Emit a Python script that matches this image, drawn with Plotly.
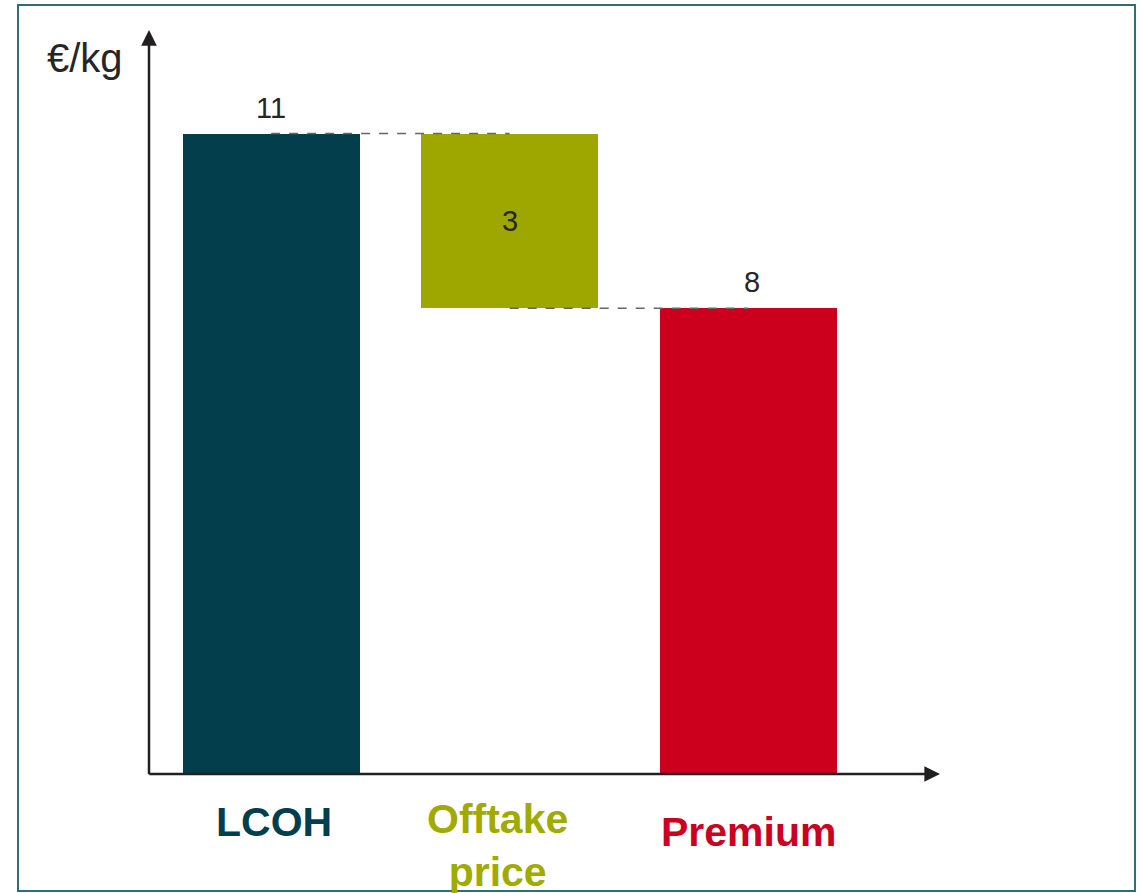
import plotly.graph_objects as go

# ---- data ----
categories = ["LCOH", "Offtake price", "Premium"]
values = [11, 3, 8]
label_texts = ["LCOH", "Offtake<br>price", "Premium"]
unit_label = "€/kg"

# ---- styles ----
bar_colors = ["#023E4C", "#9EA700", "#CC001C"]
label_colors = ["#023E4C", "#A0AA00", "#CC0020"]
text_dark = "#262626"
axis_color = "#231F20"
FONT = "Arial, Liberation Sans, sans-serif"

# bases for the waterfall: first and last stand on zero, middle floats
bases = [0, values[0] - values[1], 0]

W, H = 1143, 893
L, R, T, B = 149, 203, 30, 119
xr = [-0.512, 2.804]
yr = [0, 12.78]

fig = go.Figure()
fig.add_trace(go.Bar(
    x=categories, y=values, base=bases,
    marker=dict(color=bar_colors, line=dict(width=0)),
    width=0.742, hoverinfo="skip", showlegend=False,
))

# dashed connectors (centre to centre)
fig.add_shape(type="line", xref="x", yref="y", x0=0, x1=1,
              y0=values[0], y1=values[0],
              line=dict(color="#666666", width=1.5, dash="dash"), layer="above")
fig.add_shape(type="line", xref="x", yref="y", x0=1, x1=2,
              y0=bases[1], y1=bases[1],
              line=dict(color="#666666", width=1.5, dash="dash"), layer="above")

# outer border
fig.add_shape(type="rect", xref="paper", yref="paper",
              x0=(18 - L) / (W - L - R), x1=(1135 - L) / (W - L - R),
              y0=(H - B - 891) / (H - B - T), y1=(H - B - 5) / (H - B - T),
              line=dict(color="#2F6E78", width=2), fillcolor="rgba(0,0,0,0)")

ann = []
# axis arrows
ann.append(dict(x=xr[0], y=yr[1], ax=xr[0], ay=-0.03, xref="x", yref="y",
                axref="x", ayref="y", text="", showarrow=True,
                arrowhead=2, arrowsize=1.25, arrowwidth=2.5, arrowcolor=axis_color))
ann.append(dict(x=xr[1], y=0, ax=xr[0] - 0.005, ay=0, xref="x", yref="y",
                axref="x", ayref="y", text="", showarrow=True,
                arrowhead=2, arrowsize=1.25, arrowwidth=2.5, arrowcolor=axis_color))

# unit label
ann.append(dict(x=-0.081, y=0.9624, xref="paper", yref="paper", text=unit_label,
                showarrow=False, xanchor="center", yanchor="middle",
                font=dict(family=FONT, size=40, color=text_dark)))

# value labels
ann.append(dict(x=categories[0], y=values[0], xref="x", yref="y", text=str(values[0]),
                showarrow=False, yanchor="middle", yshift=26,
                font=dict(family=FONT, size=29, color=text_dark)))
ann.append(dict(x=categories[1], y=bases[1] + values[1] / 2, xref="x", yref="y",
                text=str(values[1]), showarrow=False, yanchor="middle",
                font=dict(family=FONT, size=29, color=text_dark)))
ann.append(dict(x=categories[2], y=values[2], xref="x", yref="y", text=str(values[2]),
                showarrow=False, yanchor="middle", yshift=26, xshift=4,
                font=dict(family=FONT, size=29, color=text_dark)))

# category labels
cat_y_px = [822, 845, 832]
cat_xshift = [3, -12, 0]
for i, c in enumerate(categories):
    ann.append(dict(x=c, y=(H - B - cat_y_px[i]) / (H - B - T), xref="x", yref="paper",
                    text="<b>" + label_texts[i] + "</b>", showarrow=False,
                    xanchor="center", yanchor="middle", xshift=cat_xshift[i],
                    font=dict(family=FONT, size=41, color=label_colors[i])))

fig.update_layout(
    width=W, height=H,
    margin=dict(l=L, r=R, t=T, b=B),
    paper_bgcolor="white", plot_bgcolor="white",
    xaxis=dict(range=xr, showticklabels=False, showgrid=False, zeroline=False,
               showline=False, ticks=""),
    yaxis=dict(range=yr, showticklabels=False, showgrid=False, zeroline=False,
               showline=False, ticks=""),
    annotations=ann,
    bargap=0,
)

fig.write_html("out.html")
